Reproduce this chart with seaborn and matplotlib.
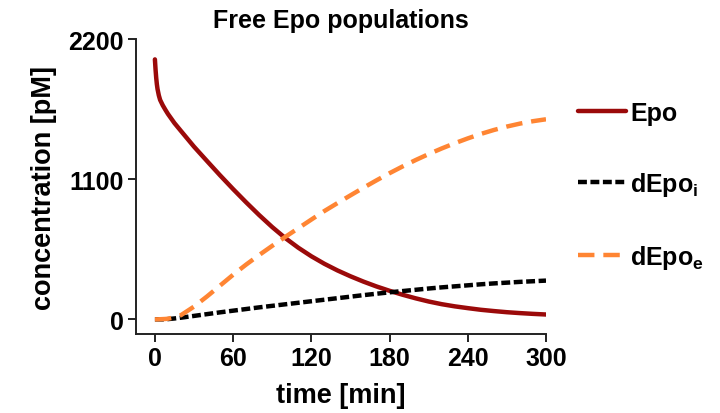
import numpy as np
import pandas as pd
import matplotlib
matplotlib.use("Agg")
import matplotlib.pyplot as plt
import seaborn as sns

# time points [min]
time = [0, 0.5, 1, 1.5, 2, 3, 4, 6, 8, 10, 15, 20, 30, 40, 50, 60, 70, 80, 90, 100, 110, 120,
        130, 140, 150, 160, 170, 180, 190, 200, 210, 220, 230, 240, 250, 260, 270, 280, 290, 300]

# free Epo in medium [pM]
epo = [2040, 1960, 1895, 1845, 1808, 1758, 1722, 1680, 1645, 1612, 1540, 1478, 1355, 1242,
       1130, 1022, 918, 818, 724, 638, 562, 495, 436, 384, 338, 296, 258, 224, 193, 165, 140,
       119, 102, 88, 75, 65, 56, 49, 43, 38]

# degraded Epo, intracellular [pM]
depo_i = [0, 0, 0, 0, 0, 0, 0, 0, 1, 2, 7, 13, 27, 41, 55, 68, 81, 94, 106, 118, 130, 142,
          154, 166, 178, 190, 201, 212, 222, 232, 242, 251, 259, 267, 275, 282, 288, 294, 299, 304]

# degraded Epo, extracellular [pM]
depo_e = [0, 0, 0, 0, 0, 0.5, 1, 2, 3, 5, 15, 33, 100, 180, 265, 350, 430, 505, 577, 647, 715,
          783, 850, 912, 973, 1033, 1091, 1147, 1200, 1250, 1297, 1341, 1382, 1420, 1455, 1486,
          1513, 1536, 1555, 1570]

species = ["Epo", "dEpo$_\\mathbf{i}$", "dEpo$_\\mathbf{e}$"]
colors = ["#9b0a0a", "#000000", "#ff8533"]
dash_styles = ["", (2.0, 0.8), (3.7, 2.0)]

x_ticks = [0, 60, 120, 180, 240, 300]
y_ticks = [0, 1100, 2200]

df = pd.DataFrame({
    "time": time * 3,
    "conc": epo + depo_i + depo_e,
    "species": [species[0]] * len(time) + [species[1]] * len(time) + [species[2]] * len(time),
})

sns.set_style("ticks")
plt.rcParams["font.family"] = ["Liberation Sans", "DejaVu Sans"]
plt.rcParams["font.weight"] = "bold"
plt.rcParams["text.color"] = "black"
plt.rcParams["axes.labelcolor"] = "black"
plt.rcParams["xtick.color"] = "black"
plt.rcParams["ytick.color"] = "black"
plt.rcParams["mathtext.fontset"] = "custom"
plt.rcParams["mathtext.rm"] = "Liberation Sans:bold"
plt.rcParams["mathtext.bf"] = "Liberation Sans:bold"

fig = plt.figure(figsize=(7.2, 4.14), dpi=100)
ax = fig.add_axes([136 / 720, 1 - 335 / 414, 410 / 720, 295 / 414])

sns.lineplot(data=df, x="time", y="conc", hue="species", style="species",
             palette=dict(zip(species, colors)), dashes=dict(zip(species, dash_styles)),
             linewidth=3.2, ax=ax, legend=False)

handles = []
for sp, c, d in zip(species, colors, dash_styles):
    ln, = ax.plot([], [], color=c, lw=3.2, label=sp)
    if d:
        ln.set_dashes(d)
    handles.append(ln)

ax.set_xlim(-14.5, 300)
ax.set_ylim(-115, 2200)
ax.set_xticks(x_ticks)
ax.set_yticks(y_ticks)
ax.tick_params(axis="both", direction="out", length=6, width=1.4, color="#222222",
               labelcolor="black", labelsize=18, pad=3)
for lab in ax.get_xticklabels() + ax.get_yticklabels():
    lab.set_fontweight("bold")
for s in ["left", "bottom"]:
    ax.spines[s].set_linewidth(1.4)
    ax.spines[s].set_color("#222222")
sns.despine(ax=ax)

ax.set_xlabel("time [min]", fontsize=19.5, fontweight="bold", labelpad=8, color="black")
ax.set_ylabel("concentration [pM]", fontsize=19.5, fontweight="bold", labelpad=8, color="black")
ax.set_title("Free Epo populations", fontsize=18, fontweight="bold", pad=9, color="black")

leg = fig.legend(handles=handles, loc="upper left", bbox_to_anchor=(578 / 720, 1 - 102 / 414),
                 frameon=False, fontsize=18, handlelength=1.9, handletextpad=0.2,
                 labelspacing=1.8, borderpad=0, borderaxespad=0)
for t in leg.get_texts():
    t.set_color("black")

fig.savefig("out.png", dpi=100)
